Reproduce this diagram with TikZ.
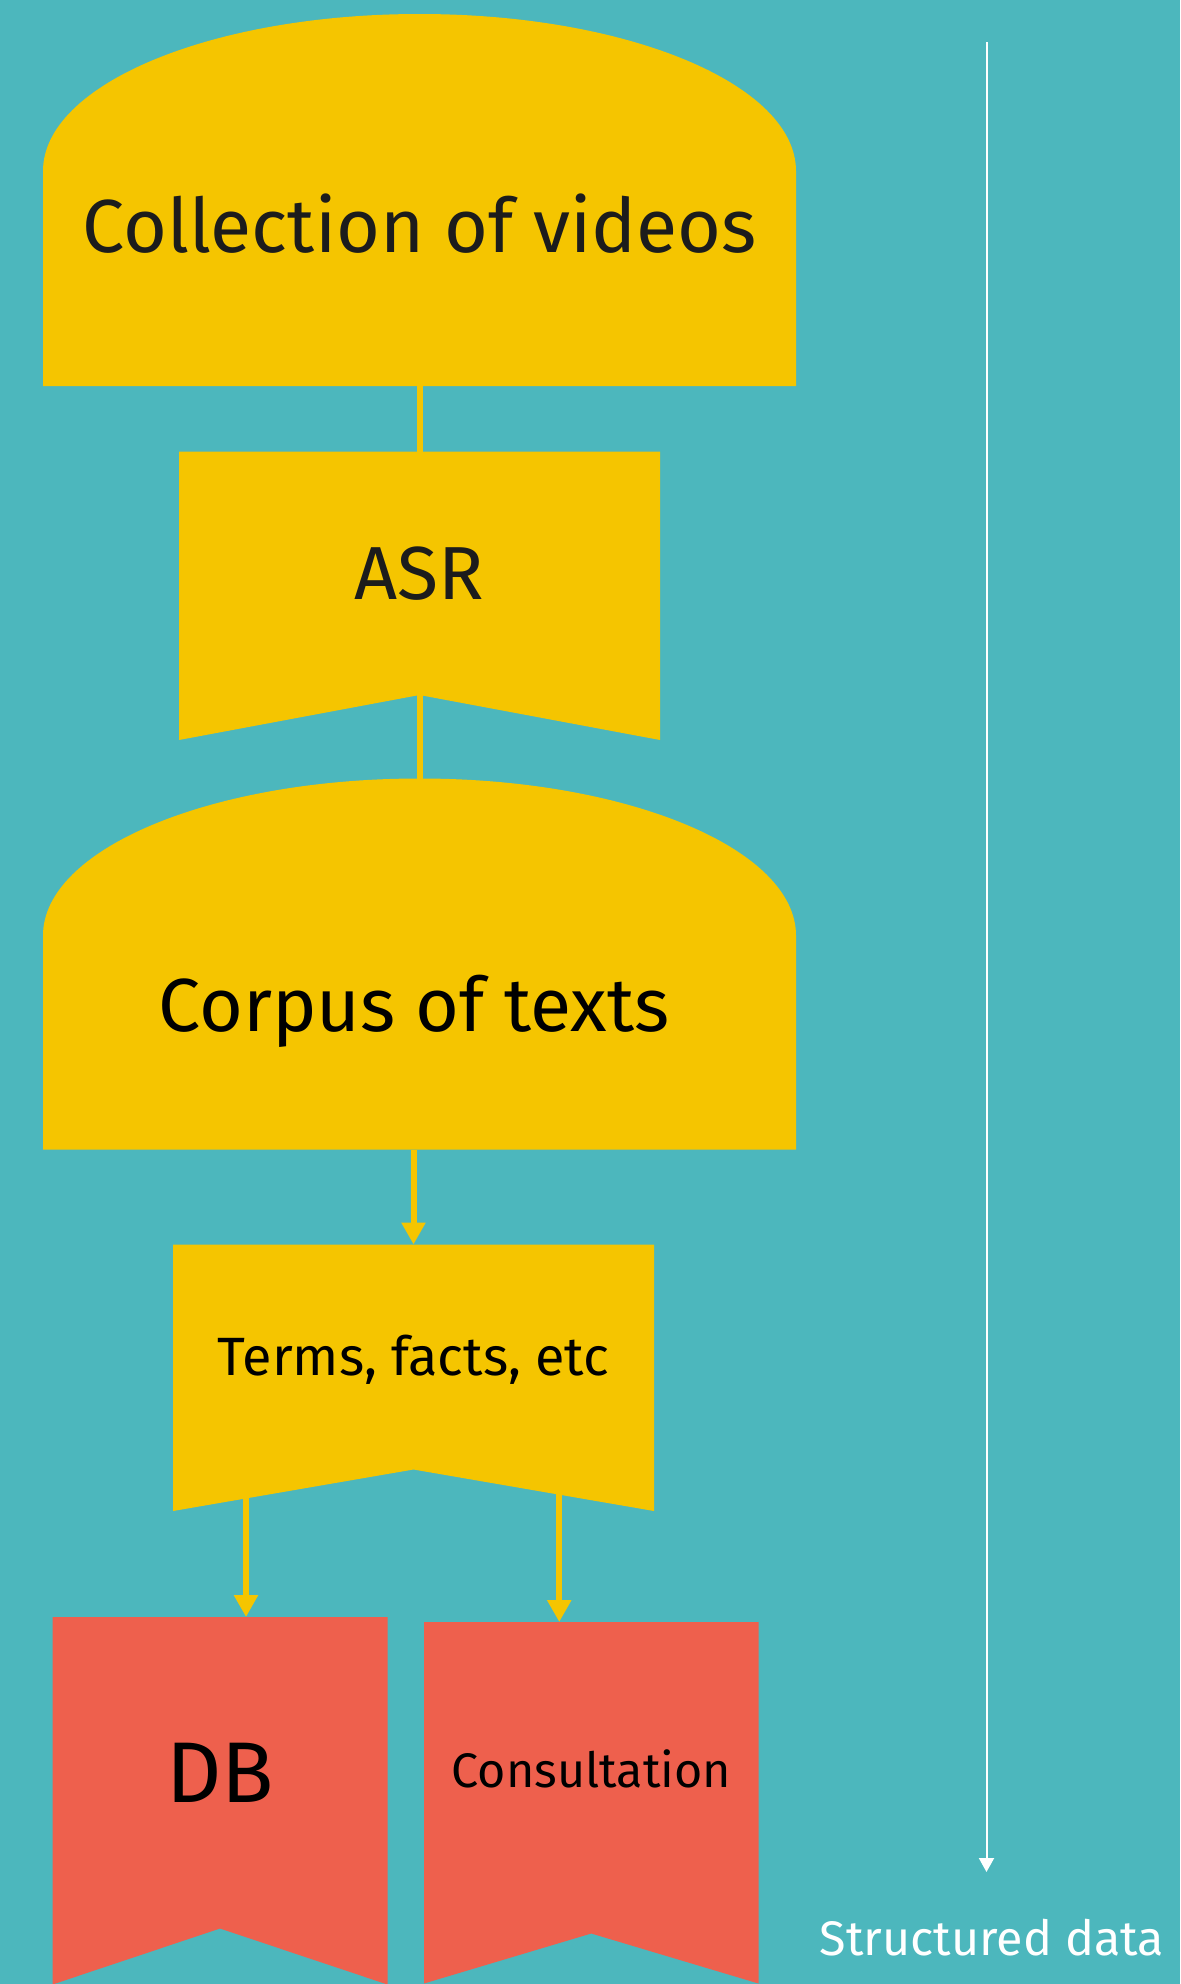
\documentclass[tikz,border=0pt]{standalone}
\usepackage{fontspec}
\setmainfont{Fira Sans}
\usepackage{xcolor}
\definecolor{cTeal}  {HTML}{4CB7BD}
\definecolor{cYellow}{HTML}{F5C500}
\definecolor{cRed}   {HTML}{EE604D}
\definecolor{cInk}   {HTML}{1C1C1C}
\usepackage{tikz}
\usetikzlibrary{arrows.meta, positioning, backgrounds}
\tikzset{
  blk/.style    = {rectangle, inner sep=0pt, outer sep=0pt,
                   minimum width=#1},
  blk/.default  = 9.62cm,
  tBig/.style   = {font=\fontsize{42.8pt}{46pt}\selectfont, text=cInk,
                   text height=29.5pt, text depth=0pt},
  tMid/.style   = {font=\fontsize{30.7pt}{33pt}\selectfont, text=black,
                   text height=21.2pt, text depth=0pt},
  tHuge/.style  = {font=\fontsize{49pt}{53pt}\selectfont, text=black,
                   text height=33.8pt, text depth=0pt},
  tSmall/.style = {font=\fontsize{27.6pt}{30pt}\selectfont, text=black,
                   text height=19pt, text depth=0pt},
  link/.style   = {draw=cYellow, line width=0.12cm},
  arr/.style    = {link, -{Triangle[width=0.46cm, length=0.44cm]}},
  flow/.style   = {draw=white, line width=0.04cm,
                   -{Triangle[width=0.3cm, length=0.28cm]}},
}

\begin{document}
\begin{tikzpicture}
  \useasboundingbox (0,0) rectangle (23.6,-39.68);

  %% --- Pipeline ---
  \node[blk=15.06cm, minimum height=7.44cm,
        label={[tBig, yshift=-0.53cm]center:Collection of videos}]
        (videos) at (8.39,-4.00) {};
  \node[blk, minimum height=4.87cm, below=1.31cm of videos,
        label={[tBig]center:ASR}] (asr) {};
  \node[blk=15.06cm, minimum height=7.42cm, below=1.67cm of asr,
        label={[tBig, text=black, xshift=-0.11cm, yshift=-0.84cm]center:Corpus of texts}]
        (corpus) {};
  \node[blk, minimum height=4.50cm, below=1.90cm of corpus, xshift=-0.12cm,
        label={[tMid]center:{Terms, facts, etc}}] (terms) {};

  %% --- Outputs ---
  \node[blk=6.70cm, minimum height=6.23cm,
        below=2.95cm of terms, xshift=-3.87cm,
        label={[tHuge]center:DB}] (db) {};
  \node[blk=6.69cm, minimum height=6.23cm,
        right=0.73cm of db, yshift=-0.1cm,
        label={[tSmall, yshift=0.145cm]center:Consultation}] (cons) {};

  %% --- Side axis ---
  \node[tSmall, text=white] (sdata) at (19.84,-38.78) {Structured data};
  \coordinate (flowtop) at (19.73,-0.84);
  \coordinate (flowend) at (19.73,-37.44);

  %% --- Shapes behind the text ---
  \begin{scope}[on background layer]
    \fill[cTeal] (0,0) rectangle (23.6,-39.68);
    \fill[cYellow] (videos.south west) -- ([yshift=-3.14cm]videos.north west)
      arc[start angle=180, end angle=0, x radius=7.53cm, y radius=3.14cm]
      -- (videos.south east) -- cycle;
    \fill[cYellow] (corpus.south west) -- ([yshift=-3.14cm]corpus.north west)
      arc[start angle=180, end angle=0, x radius=7.53cm, y radius=3.14cm]
      -- (corpus.south east) -- cycle;
    \fill[cYellow] (asr.north west) -- (asr.north east)
      -- ([yshift=-0.90cm]asr.south east) -- (asr.south)
      -- ([yshift=-0.90cm]asr.south west) -- cycle;
    \fill[cYellow] (terms.north west) -- (terms.north east)
      -- ([yshift=-0.83cm]terms.south east) -- (terms.south)
      -- ([yshift=-0.83cm]terms.south west) -- cycle;
    \fill[cRed] (db.north west) -- (db.north east)
      -- ([yshift=-1.12cm]db.south east) -- (db.south)
      -- ([yshift=-1.12cm]db.south west) -- cycle;
    \fill[cRed] (cons.north west) -- (cons.north east)
      -- ([yshift=-1.00cm]cons.south east) -- (cons.south)
      -- ([yshift=-1.00cm]cons.south west) -- cycle;
  \end{scope}

  %% --- Arrows ---
  \coordinate (dbin)   at ([xshift=0.52cm]db.north);
  \coordinate (consin) at ([xshift=-0.64cm]cons.north);

  \draw[link] (videos.south) -- (asr.north);
  \draw[link] (asr.south)    -- (corpus.north);
  \draw[arr]  (corpus.south -| terms.north) -- (terms.north);
  \draw[arr]  (dbin |- terms.south)   -- (dbin);
  \draw[arr]  (consin |- terms.south) -- (consin);

  \draw[flow] (flowtop) -- (flowend);

\end{tikzpicture}
\end{document}
